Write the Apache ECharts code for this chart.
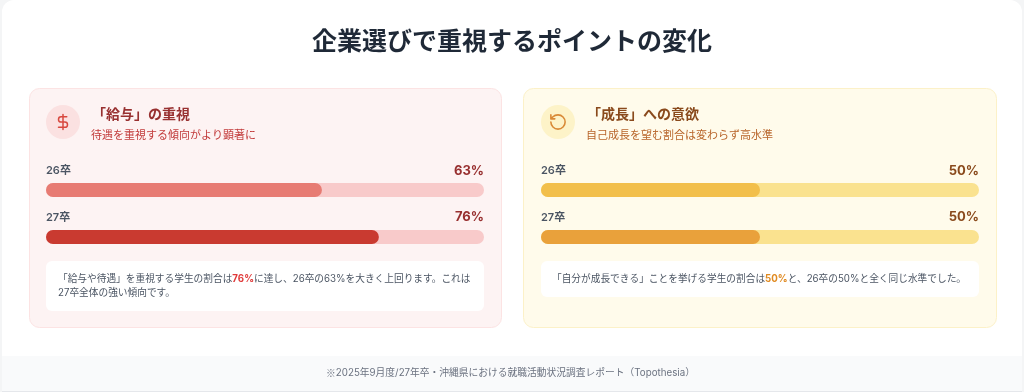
<!DOCTYPE html>
<html>
<head>
<meta charset="utf-8">
<style>
  html, body { margin: 0; padding: 0; background: #f4f5f6; }
  #chart { width: 1024px; height: 392px; }
</style>
<script src="https://cdn.jsdelivr.net/npm/echarts@6/dist/echarts.min.js"></script>
</head>
<body>
<div id="chart"></div>
<script>
// データ
const chartTitle = '企業選びで重視するポイントの変化'
const years = ['26卒', '27卒']
const salaryValues = [63, 76]
const growthValues = [50, 50]
const salaryTitle = '「給与」の重視'
const salarySub = '待遇を重視する傾向がより顕著に'
const growthTitle = '「成長」への意欲'
const growthSub = '自己成長を望む割合は変わらず高水準'
const salaryNote = ['「給与や待遇」を重視する学生の割合は', '76%', 'に達し、26卒の63%を大きく上回ります。これは']
const salaryNote2 = '27卒全体の強い傾向です。'
const growthNote = ['「自分が成長できる」ことを挙げる学生の割合は', '50%', 'と、26卒の50%と全く同じ水準でした。']
const footerMark = '※'
const footer = '2025年9月度/27年卒・沖縄県における就職活動状況調査レポート（Topothesia）'

const FONT = 'Inter, "Noto Sans CJK JP", sans-serif'
const red = { card: '#fdf3f3', border: '#fce3e3', circle: '#fbe1e1', icon: '#d8483f', title: '#983030', sub: '#c23b3b', track: '#f8caca', bars: ['#e77b73', '#c93a30'], pct: '#983030', hi: '#e03a3a' }
const yellow = { card: '#fffbeb', border: '#fcf1c8', circle: '#fdf3c8', icon: '#d98a36', title: '#8a4a1c', sub: '#b8652a', track: '#fae28f', bars: ['#f2bf4b', '#e9a13b'], pct: '#8a4a1c', hi: '#e08a20' }

// アイコン用のパス
echarts.graphic.registerShape('iconDollar', echarts.graphic.extendPath('M12 2V22M17 5H9.5a3.5 3.5 0 0 0 0 7h5a3.5 3.5 0 0 1 0 7H6', {}))
echarts.graphic.registerShape('iconRotate', echarts.graphic.extendPath('M3 12a9 9 0 1 0 9-9 9.75 9.75 0 0 0-6.74 2.74L3 8M3 3v5h5', {}))

const chart = echarts.init(document.getElementById('chart'), null, { renderer: 'canvas' })

const rect = (x, y, w, h, r, fill, stroke, z) => ({
  type: 'rect', shape: { x, y, width: w, height: h, r }, z: z || 0,
  style: { fill, stroke: stroke || null, lineWidth: stroke ? 1 : 0 }
})
const text = (x, y, str, size, weight, fill, align) => ({
  type: 'text', x, y, z: 5,
  style: { text: str, font: weight + ' ' + size + 'px ' + FONT, fill, align: align || 'left', verticalAlign: 'middle' }
})
const noteText = (x, y, parts, hi) => ({
  type: 'text', x, y, z: 5,
  style: {
    text: parts[0] + '{h|' + parts[1] + '}' + parts[2],
    font: '400 9.7px ' + FONT, fill: '#4b5563', align: 'left', verticalAlign: 'middle',
    rich: { h: { font: '700 9.7px ' + FONT, fill: hi } }
  }
})

// パネル共通
function panel (cardX, cardW, innerX, innerW, theme, title, sub, values, noteH, iconType, iconSize) {
  const cy = 122
  const g = [
    rect(cardX + 0.5, 88.5, cardW, 239, 10, theme.card, theme.border),
    { type: 'circle', shape: { cx: innerX + 17, cy, r: 17 }, z: 1, style: { fill: theme.circle } },
    text(innerX + 46, 115, title, 14, 700, theme.title),
    text(innerX + 45, 136, sub, 11, 400, theme.sub),
    rect(innerX, 261, innerW, noteH, 6, '#ffffff', null, 1),
    {
      type: iconType, x: innerX + 17 - iconSize / 2, y: cy - iconSize / 2, scaleX: iconSize / 24, scaleY: iconSize / 24, z: 5,
      style: { fill: null, stroke: theme.icon, lineWidth: 2, lineCap: 'round', lineJoin: 'round' }
    }
  ]
  years.forEach((y, i) => {
    const ty = 171 + i * 46.5
    g.push(text(innerX, ty, y, 11, 600, '#4b5563'))
    g.push(text(innerX + innerW, ty, values[i] + '%', 13, 700, theme.pct, 'right'))
  })
  return g
}

const graphics = [
  rect(2, 0, 1020, 392, 12, '#ffffff'),
  { type: 'rect', shape: { x: 2, y: 356, width: 1020, height: 35 }, style: { fill: '#f9fafb' }, z: 0 },
  { type: 'rect', shape: { x: 2, y: 391, width: 1020, height: 1 }, style: { fill: '#e5e7eb' }, z: 0 },
  text(512, 42, chartTitle, 25, 700, '#1f2937', 'center'),
  {
    type: 'text', x: 510.5, y: 373, z: 5,
    style: {
      text: '{k|' + footerMark + '}' + footer,
      font: '400 9.75px ' + FONT, fill: '#6b7280', align: 'center', verticalAlign: 'middle',
      rich: { k: { font: '400 9.75px "Noto Sans CJK JP"', fill: '#6b7280' } }
    }
  }
].concat(
  panel(29, 472, 46, 438, red, salaryTitle, salarySub, salaryValues, 50, 'iconDollar', 18),
  panel(523, 473, 541, 438, yellow, growthTitle, growthSub, growthValues, 36, 'iconRotate', 19),
  [
    noteText(58, 279, salaryNote, red.hi),
    text(58, 293, salaryNote2, 9.7, 400, '#4b5563'),
    noteText(552, 279, growthNote, yellow.hi)
  ]
)

// 棒グラフ 4本分
const bars = [
  { left: 46, top: 183, v: salaryValues[0], c: red.bars[0], t: red.track },
  { left: 46, top: 230, v: salaryValues[1], c: red.bars[1], t: red.track },
  { left: 541, top: 183, v: growthValues[0], c: yellow.bars[0], t: yellow.track },
  { left: 541, top: 230, v: growthValues[1], c: yellow.bars[1], t: yellow.track }
]

chart.setOption({
  animation: false,
  textStyle: { fontFamily: FONT },
  graphic: graphics,
  grid: bars.map(b => ({ left: b.left, top: b.top, width: 438, height: 14 })),
  xAxis: bars.map((b, i) => ({ type: 'value', gridIndex: i, min: 0, max: 100, show: false })),
  yAxis: bars.map((b, i) => ({ type: 'category', gridIndex: i, data: [years[i % 2]], show: false })),
  series: bars.map((b, i) => ({
    type: 'bar',
    xAxisIndex: i,
    yAxisIndex: i,
    barWidth: 14,
    data: [b.v],
    z: 10,
    itemStyle: { color: b.c, borderRadius: 7 },
    showBackground: true,
    backgroundStyle: { color: b.t, borderRadius: 7 }
  }))
})
</script>
</body>
</html>
